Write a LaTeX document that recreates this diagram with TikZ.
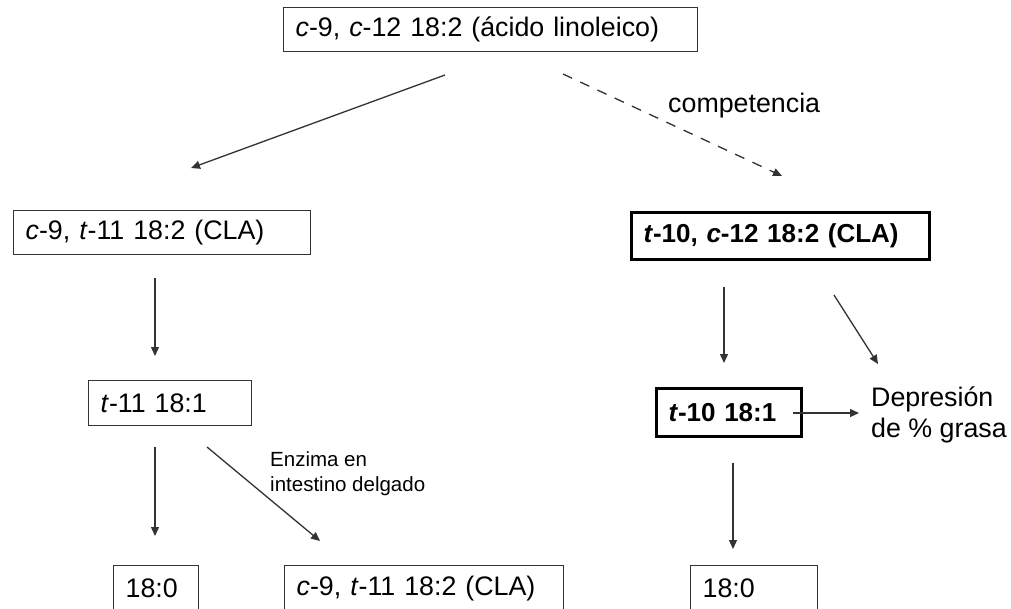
\documentclass[tikz,border=0pt]{standalone}
\usepackage{fontspec}
\setmainfont{Liberation Sans}
\usetikzlibrary{arrows.meta}
\begin{document}
\begin{tikzpicture}[x=1pt,y=-1pt,
  every node/.style={font=\fontsize{26.8}{31}\selectfont},
  box/.style={draw=black!80, line width=1.3pt, anchor=north west, inner xsep=12pt, inner ysep=0pt, align=left},
  boldbox/.style={box, draw=black, line width=3pt, font=\fontsize{26}{31}\selectfont\bfseries},
  lbl/.style={inner sep=0pt, align=left},
  arr/.style={draw=black!80, line width=1.3pt, -{Triangle[length=9pt,width=8pt]}},
  dasharr/.style={arr, dash pattern=on 10pt off 9pt},
]
\clip (0,0) rectangle (1011,609);
\fill[white] (0,0) rectangle (1011,609);

% boxes
\node[box, text width=390pt, minimum height=44pt] (top) at (283,7) {\textit{c}-9, \textit{c}-12 18:2 (ácido linoleico)};
\node[box, text width=273pt, minimum height=44pt] (cla1) at (13,210) {\textit{c}-9, \textit{t}-11 18:2 (CLA)};
\node[boldbox, text width=274pt, minimum height=47pt] (cla2) at (630,211) {\textit{t}-10, \textit{c}-12 18:2 (CLA)};
\node[box, text width=139pt, minimum height=45pt] (t11) at (88,380) {\textit{t}-11 18:1};
\node[boldbox, text width=121pt, minimum height=48pt] (t10) at (655,387) {\textit{t}-10 18:1};
\node[box, text width=61pt, minimum height=46pt] (sa1) at (113,565) {18:0};
\node[box, text width=255pt, minimum height=46pt] (cla3) at (284,565) {\textit{c}-9, \textit{t}-11 18:2 (CLA)};
\node[box, text width=103pt, minimum height=46pt] (sa2) at (690,565) {18:0};

% labels
\node[lbl, anchor=base west] (comp) at (668,113) {competencia};
\node[lbl, anchor=north west] (dep) at (871,387) {Depresión\\de \% grasa};
\node[lbl, anchor=north west, font=\fontsize{20.5}{25}\selectfont] (enz) at (270,451) {Enzima en\\intestino delgado};

% arrow end points
\coordinate (a1s) at (445,75);  \coordinate (a1e) at (191,168);
\coordinate (a2s) at (563,74);  \coordinate (a2e) at (782,176);
\coordinate (a3s) at (155,278); \coordinate (a3e) at (155,356);
\coordinate (a4s) at (155,447); \coordinate (a4e) at (155,536);
\coordinate (a5s) at (207,447); \coordinate (a5e) at (320,541);
\coordinate (a6s) at (724,287); \coordinate (a6e) at (724,363);
\coordinate (a7s) at (834,295); \coordinate (a7e) at (878,364);
\coordinate (a8s) at (793,413); \coordinate (a8e) at (859,413);
\coordinate (a9s) at (733,463); \coordinate (a9e) at (733,549);

\draw[arr] (a1s) -- (a1e);
\draw[dasharr] (a2s) -- (a2e);
\draw[arr] (a3s) -- (a3e);
\draw[arr] (a4s) -- (a4e);
\draw[arr] (a5s) -- (a5e);
\draw[arr] (a6s) -- (a6e);
\draw[arr] (a7s) -- (a7e);
\draw[arr] (a8s) -- (a8e);
\draw[arr] (a9s) -- (a9e);
\end{tikzpicture}
\end{document}
